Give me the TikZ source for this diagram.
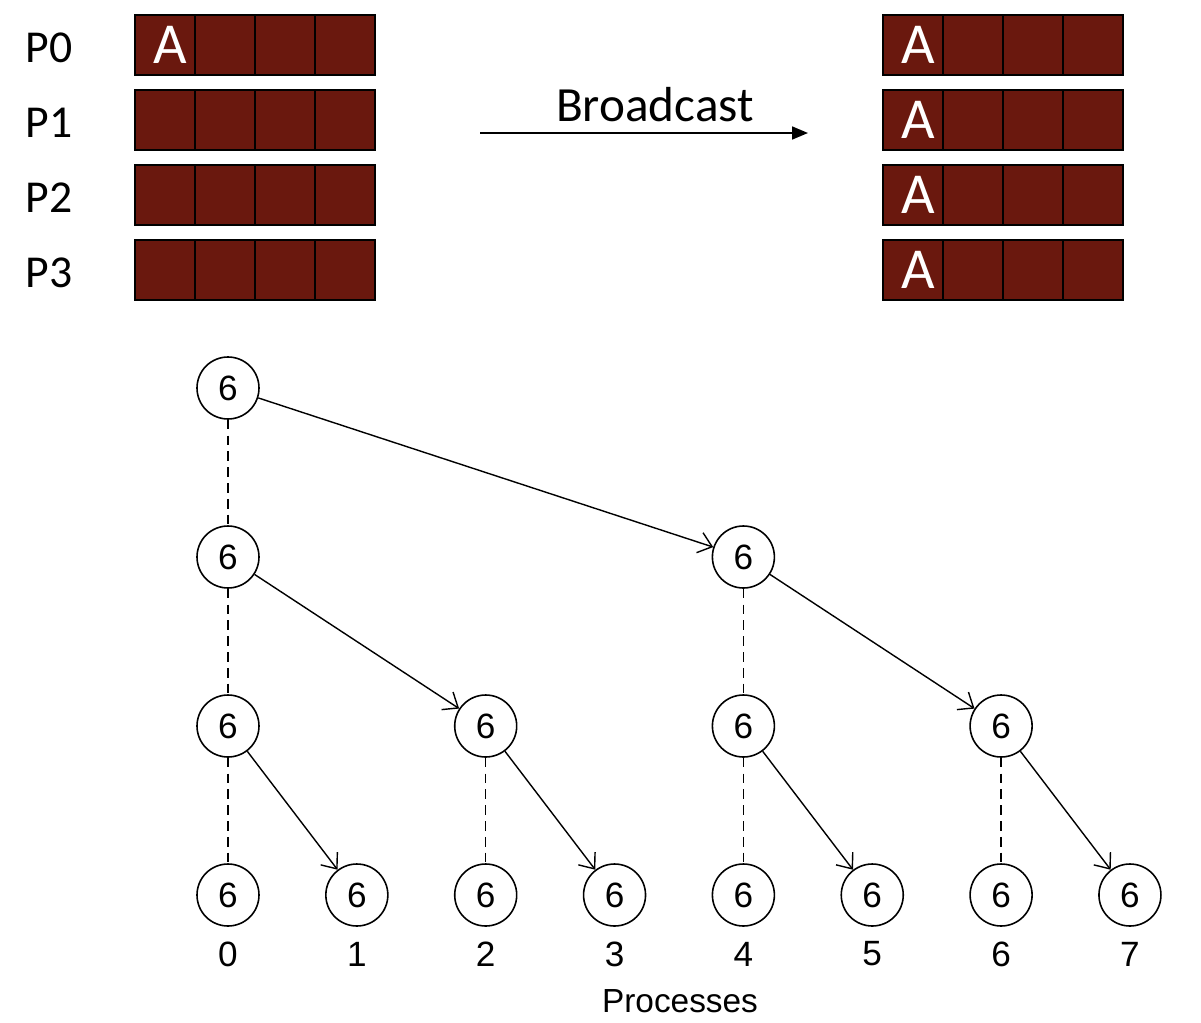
\documentclass[tikz,border=0pt]{standalone}
\usepackage{fontspec}
\setmainfont{Carlito}
\newfontfamily\arialfont{Liberation Sans}
\usetikzlibrary{positioning, arrows.meta}
\definecolor{blockred}{RGB}{106,24,14}

\begin{document}
\begin{tikzpicture}
    [
        node distance=3.38cm and 2.577cm, on grid,
        cell_node/.style={rectangle, draw=black, fill=blockred, line width=1.1pt, minimum size=1.2cm, inner sep=0pt},
        cell_text/.style={text=white, font=\fontsize{33}{36}\selectfont},
        proc_label/.style={font=\fontsize{26}{30}\selectfont},
        tree_node/.style={circle, draw=black, fill=white, line width=0.9pt, minimum size=1.24cm, inner sep=0pt, font=\arialfont\fontsize{20}{22}\selectfont},
        idx_label/.style={font=\arialfont\fontsize{20}{22}\selectfont},
        send/.style={-{Straight Barb[length=2.6mm, width=4.2mm]}, line width=0.8pt},
        keep/.style={dashed, dash pattern=on 5.5pt off 3.5pt, line width=0.8pt},
    ]
        \useasboundingbox (0,0) rectangle (24.02,-20.44);
        % data blocks before and after
        \foreach \r in {0,...,3} {
            \node[proc_label] (p\r) at (0.98,-0.95-1.5*\r) {P\r} ;
            \foreach \c in {0,...,3} {
                \node[cell_node] (before\r\c) at (3.3+1.2*\c,-0.9-1.5*\r) {} ;
                \node[cell_node] (after\r\c) at (18.26+1.2*\c,-0.9-1.5*\r) {} ;
            }
            \node[cell_text] (a\r) at ([xshift=0.1cm]after\r0) {A} ;
        }
        \node[cell_text] (a_src) at ([xshift=0.1cm]before00) {A} ;
        \coordinate (bc_start) at (9.6,-2.66) ;
        \coordinate (bc_end) at (16.16,-2.66) ;
        \draw[-{Triangle[length=3.2mm, width=2.6mm]}, line width=1pt] (bc_start) -- (bc_end) node[midway, above=0.08cm, xshift=0.22cm, font=\fontsize{28}{32}\selectfont] (bc_text) {Broadcast} ;
        % broadcast tree
        \node[tree_node] (q0) at (4.56,-17.9) {6} ;
        \node[tree_node] (q1) [right = of q0] {6} ;
        \node[tree_node] (q2) [right = of q1] {6} ;
        \node[tree_node] (q3) [right = of q2] {6} ;
        \node[tree_node] (q4) [right = of q3] {6} ;
        \node[tree_node] (q5) [right = of q4] {6} ;
        \node[tree_node] (q6) [right = of q5] {6} ;
        \node[tree_node] (q7) [right = of q6] {6} ;
        \node[tree_node] (t0) [above = of q0] {6} ;
        \node[tree_node] (t2) [above = of q2] {6} ;
        \node[tree_node] (t4) [above = of q4] {6} ;
        \node[tree_node] (t6) [above = of q6] {6} ;
        \node[tree_node] (s0) [above = of t0] {6} ;
        \node[tree_node] (s4) [above = of t4] {6} ;
        \node[tree_node] (root) [above = of s0] {6} ;
        \foreach \k in {0,...,7} {
            \node[idx_label] (idx\k) [below = 1.18cm of q\k] {\k} ;
        }
        \node[font=\arialfont\fontsize{19}{21}\selectfont] (procs) at (13.6,-20.02) {Processes} ;
        \draw[keep] (root) -- (s0) ;
        \draw[keep] (s0) -- (t0) ;
        \draw[keep] (s4) -- (t4) ;
        \draw[keep] (t0) -- (q0) ;
        \draw[keep] (t2) -- (q2) ;
        \draw[keep] (t4) -- (q4) ;
        \draw[keep] (t6) -- (q6) ;
        \draw[send] (root) -- (s4) ;
        \draw[send] (s0) -- (t2) ;
        \draw[send] (s4) -- (t6) ;
        \draw[send] (t0) -- (q1) ;
        \draw[send] (t2) -- (q3) ;
        \draw[send] (t4) -- (q5) ;
        \draw[send] (t6) -- (q7) ;
    \end{tikzpicture}
\end{document}
